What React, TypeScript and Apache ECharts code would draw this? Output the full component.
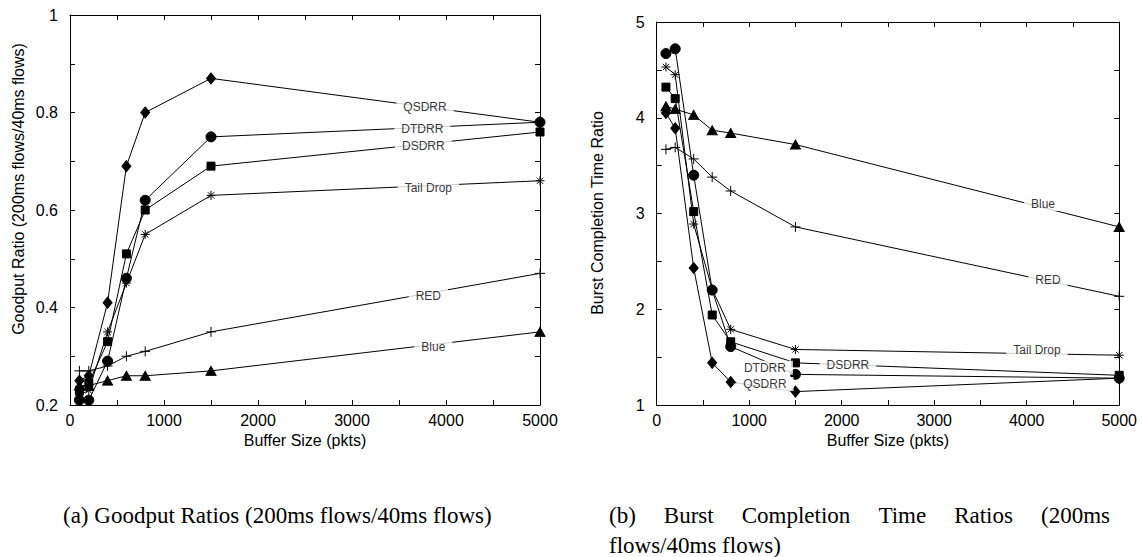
import React, { useEffect, useRef } from "react";
import * as echarts from "echarts";

const bufferSizes = [100, 200, 400, 600, 800, 1500, 5000];

const goodQSDRR = [0.25, 0.26, 0.41, 0.69, 0.8, 0.87, 0.78];
const goodDTDRR = [0.21, 0.21, 0.29, 0.46, 0.62, 0.75, 0.78];
const goodDSDRR = [0.23, 0.245, 0.33, 0.51, 0.6, 0.69, 0.76];
const goodTail = [0.22, 0.23, 0.35, 0.45, 0.55, 0.63, 0.66];
const goodRED = [0.27, 0.27, 0.28, 0.3, 0.31, 0.35, 0.47];
const goodBlue = [0.24, 0.24, 0.25, 0.26, 0.26, 0.27, 0.35];

const bctQSDRR = [4.05, 3.89, 2.43, 1.44, 1.24, 1.14, 1.28];
const bctDTDRR = [4.67, 4.72, 3.4, 2.2, 1.61, 1.32, 1.28];
const bctDSDRR = [4.32, 4.2, 3.02, 1.94, 1.66, 1.44, 1.31];
const bctTail = [4.53, 4.45, 2.89, 2.21, 1.79, 1.58, 1.52];
const bctRED = [3.67, 3.69, 3.57, 3.38, 3.235, 2.86, 2.135];
const bctBlue = [4.12, 4.09, 4.03, 3.87, 3.84, 3.72, 2.86];

const seriesNames = ["QSDRR", "DTDRR", "DSDRR", "Tail Drop", "RED", "Blue"];

// line-label anchors in data coordinates
const goodLabels: [string, number, number][] = [
  ["QSDRR", 3777, 0.812],
  ["DTDRR", 3748, 0.766],
  ["DSDRR", 3759, 0.732],
  ["Tail Drop", 3812, 0.646],
  ["RED", 3812, 0.424],
  ["Blue", 3865, 0.32],
];
const bctLabels: [string, number, number][] = [
  ["Blue", 4176, 3.1],
  ["RED", 4230, 2.31],
  ["Tail Drop", 4111, 1.574],
  ["DSDRR", 2067, 1.42],
  ["DTDRR", 1170, 1.39],
  ["QSDRR", 1170, 1.22],
];

const xTickLabels = ["0", "1000", "2000", "3000", "4000", "5000"];

const captionA = "(a) Goodput Ratios (200ms flows/40ms flows)";
const captionB1 = ["(b)", "Burst", "Completion", "Time", "Ratios", "(200ms"];
const captionB2 = "flows/40ms flows)";

const PLUS = "path://M-5,0L5,0M0,-5L0,5";
const STAR = "path://M0,-5L0,5M-5,0L5,0M-3.5,-3.5L3.5,3.5M-3.5,3.5L3.5,-3.5";
const symbols: any[] = ["diamond", "circle", "rect", STAR, PLUS, "triangle"];
const symbolSizes: any[] = [[9, 11], 10, 8, 9, 10, [10, 9]];

const SANS = "'Liberation Sans', Arial, Helvetica, sans-serif";
const SERIF = "'Liberation Serif', 'Times New Roman', serif";

function measure(text: string, font: string) {
  const c = document.createElement("canvas").getContext("2d")!;
  c.font = font;
  return c.measureText(text).width;
}

export default function App() {
  const ref = useRef<HTMLDivElement>(null);
  useEffect(() => {
    const chart = echarts.init(ref.current!, null, { renderer: "svg" });

    const makeLines = (sets: number[][], xi: number) =>
      sets.map((vals, i) => ({
        type: "line",
        name: seriesNames[i],
        xAxisIndex: xi,
        yAxisIndex: xi,
        data: bufferSizes.map((x, k) => [x, vals[k]]),
        symbol: symbols[i],
        symbolSize: symbolSizes[i],
        showAllSymbol: true,
        lineStyle: { color: "#000", width: 1 },
        itemStyle: { color: "#000", borderColor: "#000", borderWidth: 1 },
        z: 2,
      }));

    const makeLabels = (labels: [string, number, number][], xi: number) => ({
      type: "scatter",
      xAxisIndex: xi,
      yAxisIndex: xi,
      symbolSize: 0,
      z: 10,
      data: labels.map((l) => ({ value: [l[1], l[2]], name: l[0] })),
      label: {
        show: true,
        position: "inside",
        formatter: (p: any) => p.name,
        color: "#000",
        fontFamily: SANS,
        fontSize: 12,
        backgroundColor: "#fff",
        padding: [1, 7],
      },
    });

    const xLabelFmt = (v: number) =>
      v % 1000 === 0 ? xTickLabels[v / 1000] : "";
    const yLeftFmt = (v: number) => {
      const r = Math.round(v * 10);
      if (r % 2 !== 0) return "";
      return r === 10 ? "1" : (r / 10).toFixed(1);
    };
    const yRightFmt = (v: number) =>
      Math.abs(v - Math.round(v)) < 1e-6 ? String(Math.round(v)) : "";

    const axisLine = { show: true, onZero: false, lineStyle: { color: "#000", width: 1 } };
    const tick = { show: true, inside: true, length: 5, lineStyle: { color: "#000" } };
    const lbl = { color: "#000", fontFamily: SANS, fontSize: 16 };

    const xAx = (grid: number, pos: string, show: boolean, name?: string) => ({
      type: "value",
      gridIndex: grid,
      position: pos,
      min: 0,
      max: 5000,
      interval: 500,
      axisLine,
      axisTick: tick,
      splitLine: { show: false },
      axisLabel: show
        ? { ...lbl, formatter: xLabelFmt, margin: 7, showMaxLabel: true }
        : { show: false },
      name: name,
      nameLocation: "middle",
      nameGap: 25,
      nameTextStyle: { color: "#000", fontFamily: SANS, fontSize: 16 },
    });
    const yAx = (
      grid: number,
      pos: string,
      show: boolean,
      min: number,
      max: number,
      interval: number,
      fmt: any
    ) => ({
      type: "value",
      gridIndex: grid,
      position: pos,
      min,
      max,
      interval,
      axisLine,
      axisTick: tick,
      splitLine: { show: false },
      axisLabel: show
        ? { ...lbl, formatter: fmt, margin: 12, showMaxLabel: true, showMinLabel: true }
        : { show: false },
    });

    // caption (b) first line, justified
    const font = `23px ${SERIF}`;
    const widths = captionB1.map((w) => measure(w, font));
    const left = 609,
      right = 1110;
    const gap =
      (right - left - widths.reduce((a, b) => a + b, 0)) / (captionB1.length - 1);
    let cx = left;
    const bWords = captionB1.map((w, i) => {
      const el = {
        type: "text",
        x: cx,
        y: 515,
        style: { text: w, font, fill: "#000", textVerticalAlign: "middle" },
      };
      cx += widths[i] + gap;
      return el;
    });

    chart.setOption({
      animation: false,
      backgroundColor: "#fff",
      grid: [
        { left: 70, top: 15, width: 470, height: 390 },
        { left: 656.7, top: 22, width: 462.5, height: 383 },
      ],
      xAxis: [
        xAx(0, "bottom", true, "Buffer Size (pkts)"),
        xAx(0, "top", false),
        xAx(1, "bottom", true, "Buffer Size (pkts)"),
        xAx(1, "top", false),
      ],
      yAxis: [
        yAx(0, "left", true, 0.2, 1, 0.1, yLeftFmt),
        yAx(0, "right", false, 0.2, 1, 0.1, yLeftFmt),
        yAx(1, "left", true, 1, 5, 0.5, yRightFmt),
        yAx(1, "right", false, 1, 5, 0.5, yRightFmt),
      ],
      series: [
        ...makeLines([goodQSDRR, goodDTDRR, goodDSDRR, goodTail, goodRED, goodBlue], 0),
        makeLabels(goodLabels, 0),
        ...makeLines([bctQSDRR, bctDTDRR, bctDSDRR, bctTail, bctRED, bctBlue], 2),
        makeLabels(bctLabels, 2),
      ],
      graphic: [
        {
          type: "text",
          x: 18,
          y: 189,
          rotation: Math.PI / 2,
          style: {
            text: "Goodput Ratio (200ms flows/40ms flows)",
            font: `16px ${SANS}`,
            fill: "#000",
            textAlign: "center",
            textVerticalAlign: "middle",
          },
        },
        {
          type: "text",
          x: 597,
          y: 213,
          rotation: Math.PI / 2,
          style: {
            text: "Burst Completion Time Ratio",
            font: `16px ${SANS}`,
            fill: "#000",
            textAlign: "center",
            textVerticalAlign: "middle",
          },
        },
        {
          type: "text",
          x: 63,
          y: 515,
          style: { text: captionA, font, fill: "#000", textVerticalAlign: "middle" },
        },
        ...bWords,
        {
          type: "text",
          x: 609,
          y: 545,
          style: { text: captionB2, font, fill: "#000", textVerticalAlign: "middle" },
        },
      ],
    });
    return () => chart.dispose();
  }, []);
  return (
    <div
      ref={ref}
      style={{ position: "absolute", left: 0, top: 0, width: 1142, height: 557 }}
    />
  );
}
